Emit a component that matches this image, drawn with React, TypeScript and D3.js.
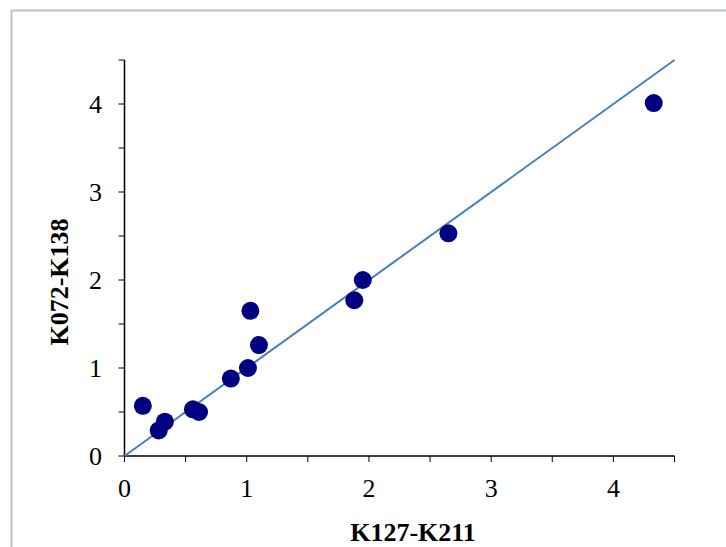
import React from "react";
import * as d3 from "d3";

const xValues = [0.15, 0.28, 0.33, 0.56, 0.61, 0.87, 1.01, 1.03, 1.1, 1.88, 1.95, 2.65, 4.33];
const yValues = [0.57, 0.29, 0.39, 0.53, 0.5, 0.88, 1.0, 1.65, 1.26, 1.77, 2.0, 2.53, 4.01];
const tickValues = [0, 0.5, 1, 1.5, 2, 2.5, 3, 3.5, 4, 4.5];
const labelValues = [0, 1, 2, 3, 4];
const fitLine = [0, 4.5];

export default function App() {
  const W = 726, H = 547;
  const x = d3.scaleLinear().domain([0, 4.5]).range([124.5, 674.5]);
  const y = d3.scaleLinear().domain([0, 4.5]).range([456, 60]);
  const line = d3.line<number>().x((d) => x(d)).y((d) => y(d));
  const font = "'Liberation Serif', 'Times New Roman', serif";
  return (
    <svg width={W} height={H} style={{ position: "absolute", left: 0, top: 0, background: "#fff" }}>
      <rect x={11.5} y={10.5} width={W + 20} height={H + 20} fill="#fff" stroke="#b4c3d9" strokeWidth={2} />
      {/* axes */}
      <line x1={x(0)} x2={x(4.5)} y1={y(0)} y2={y(0)} stroke="#000" strokeWidth={1.5} />
      <line x1={x(0)} x2={x(0)} y1={y(0)} y2={y(4.5)} stroke="#000" strokeWidth={1.5} />
      {tickValues.map((t) => (
        <g key={"t" + t}>
          <line x1={x(t)} x2={x(t)} y1={y(0)} y2={y(0) + 6} stroke="#000" strokeWidth={1} />
          <line x1={x(0) - 6} x2={x(0)} y1={y(t)} y2={y(t)} stroke="#000" strokeWidth={1} />
        </g>
      ))}
      {labelValues.map((t) => (
        <g key={"l" + t} fontFamily={font} fontSize={26} fill="#000">
          <text x={x(t)} y={497} textAnchor="middle">{t}</text>
          <text x={102} y={y(t) + 9} textAnchor="end">{t}</text>
        </g>
      ))}
      <path d={line(fitLine) || ""} stroke="#4a7ebb" strokeWidth={2} fill="none" />
      {xValues.map((v, i) => (
        <circle key={"p" + i} cx={x(v)} cy={y(yValues[i])} r={9} fill="#000080" />
      ))}
      <text x={413} y={541} textAnchor="middle" fontFamily={font} fontSize={26} fontWeight="bold" fill="#000">K127-K211</text>
      <text transform="translate(68,282) rotate(-90)" textAnchor="middle" fontFamily={font} fontSize={26} fontWeight="bold" fill="#000">K072-K138</text>
    </svg>
  );
}
